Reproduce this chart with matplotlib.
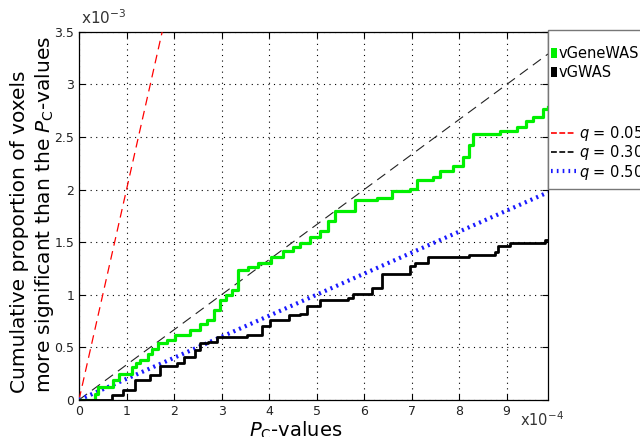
import matplotlib
matplotlib.use("Agg")
import matplotlib.pyplot as plt
from matplotlib.ticker import FuncFormatter, MultipleLocator
from matplotlib.lines import Line2D
from matplotlib.patches import Patch, Rectangle

# vGeneWAS cumulative step curve (x in P_C units of 1e-4, y in units of 1e-3)
gene_x = [0, 0.34, 0.40, 0.72, 0.85, 1.11, 1.20, 1.28, 1.45, 1.53, 1.67, 1.85, 2.02, 2.34, 2.55,
          2.69, 2.85, 2.97, 3.10, 3.21, 3.35, 3.55, 3.77, 4.05, 4.3, 4.5, 4.65, 4.86, 5.07, 5.25,
          5.39, 5.81, 6.27, 6.58, 6.97, 7.11, 7.45, 7.6, 7.88, 8.09, 8.2, 8.3, 8.72, 8.86, 9.21,
          9.4, 9.56, 9.77, 9.87]
gene_y = [0, 0.06, 0.12, 0.19, 0.25, 0.31, 0.35, 0.38, 0.44, 0.48, 0.54, 0.57, 0.62, 0.665, 0.72,
          0.76, 0.85, 0.95, 1.0, 1.045, 1.235, 1.26, 1.30, 1.36, 1.42, 1.45, 1.49, 1.55, 1.61, 1.70,
          1.80, 1.90, 1.92, 1.99, 2.01, 2.09, 2.12, 2.18, 2.22, 2.31, 2.42, 2.53, 2.53, 2.56, 2.6,
          2.65, 2.69, 2.77, 2.79]

# vGWAS cumulative step curve
gwas_x = [0, 0.69, 0.93, 1.18, 1.49, 1.71, 2.06, 2.2, 2.44, 2.55, 2.72, 2.9, 3.53, 3.85, 4.02,
          4.41, 4.65, 4.79, 5.07, 5.67, 5.77, 6.16, 6.37, 6.76, 6.97, 7.07, 7.35, 8.2, 8.76, 8.82,
          9.07, 9.81, 9.87]
gwas_y = [0, 0.05, 0.095, 0.19, 0.24, 0.32, 0.35, 0.41, 0.475, 0.54, 0.55, 0.6, 0.62, 0.70, 0.76,
          0.81, 0.82, 0.89, 0.95, 0.97, 1.01, 1.06, 1.20, 1.20, 1.27, 1.30, 1.36, 1.38, 1.41, 1.46,
          1.49, 1.52, 1.52]

# FDR threshold lines (endpoints)
q05_x = [0, 1.75]
q05_y = [0, 3.5]
q30_x = [0, 9.87]
q30_y = [0, 3.29]
q50_x = [0, 9.87]
q50_y = [0, 1.974]

series_labels = ["vGeneWAS", "vGWAS"]
q_labels = [r"$q$ = 0.05", r"$q$ = 0.30", r"$q$ = 0.50"]

XS, YS = 1e-4, 1e-3
sc = lambda v, s: [a * s for a in v]

W, H = 640, 437
fig = plt.figure(figsize=(6.4, 4.37), dpi=100)
ax = fig.add_axes([79 / W, 0.085, 469 / W, 0.842])

GREEN = "#00f000"
BLUE = "#1a1aff"
ax.step(sc(gene_x, XS), sc(gene_y, YS), where="post", color=GREEN, lw=2.3, zorder=4)
ax.step(sc(gwas_x, XS), sc(gwas_y, YS), where="post", color="black", lw=2.0, zorder=4)
ax.plot(sc(q05_x, XS), sc(q05_y, YS), color="red", ls=(0, (7, 4.5)), lw=0.9, zorder=3)
ax.plot(sc(q30_x, XS), sc(q30_y, YS), color="#222222", ls=(0, (9, 5.5)), lw=0.8, zorder=3)
ax.plot(sc(q50_x, XS), sc(q50_y, YS), color=BLUE, ls=(0, (0.5, 1.0)), lw=3.0, zorder=3)

ax.set_xlim(0, 9.87e-4)
ax.set_ylim(0, 3.5e-3)
ax.xaxis.set_major_locator(MultipleLocator(1e-4))
ax.yaxis.set_major_locator(MultipleLocator(0.5e-3))
ax.xaxis.set_major_formatter(FuncFormatter(lambda v, p: f"{v/XS:g}"))
ax.yaxis.set_major_formatter(FuncFormatter(lambda v, p: f"{round(v/YS, 2):g}"))
ax.tick_params(direction="in", top=True, right=True, labelsize=9, colors="black",
               labelcolor="#222222", length=4)
ax.grid(True, color="black", ls=(0, (1, 4)), lw=0.8)
for s in ax.spines.values():
    s.set_linewidth(0.9)

ax.text(0.004, 1.014, r"x10$^{-3}$", transform=ax.transAxes, fontsize=11, color="#333333",
        va="bottom", ha="left")
ax.text(0.94, -0.028, r"x10$^{-4}$", transform=ax.transAxes, fontsize=10.5, color="#333333",
        va="top", ha="left")

ax.set_ylabel("Cumulative proportion of voxels\nmore significant than the $P_\\mathrm{C}$-values",
              fontsize=14.5, multialignment="left")
ax.yaxis.set_label_coords(-0.05, 0.505)
ax.set_xlabel("$P_\\mathrm{C}$-values", fontsize=14)
ax.xaxis.set_label_coords((296 - 79) / 469, -0.055)
ax.xaxis.label.set_va("top")

# legend box (spans both legend groups)
fig.patches.append(Rectangle((548 / W, 1 - 189 / H), 120 / W, 159 / H, transform=fig.transFigure,
                             facecolor="white", edgecolor="#777777", lw=1.0, zorder=5))

h1 = [Patch(facecolor=GREEN, edgecolor="none"), Patch(facecolor="black", edgecolor="none")]
leg1 = fig.legend(h1, series_labels, loc="upper left", bbox_to_anchor=(551 / W, 1 - 46 / H),
                  bbox_transform=fig.transFigure, fontsize=10.5, frameon=False,
                  handlelength=0.4, handleheight=0.7, handletextpad=0.15, borderpad=0,
                  borderaxespad=0, labelspacing=0.3)
leg1.set_zorder(6)

h2 = [Line2D([], [], color="red", ls=(0, (3.5, 1.5)), lw=1.2),
      Line2D([], [], color="black", ls=(0, (3.5, 1.5)), lw=1.2),
      Line2D([], [], color=BLUE, ls=(0, (0.4, 1.0)), lw=3)]
leg2 = fig.legend(h2, q_labels, loc="upper left", bbox_to_anchor=(551 / W, 1 - 124 / H),
                  bbox_transform=fig.transFigure, fontsize=10.5, frameon=False,
                  handlelength=1.7, handletextpad=0.2, borderpad=0,
                  borderaxespad=0, labelspacing=0.02)
leg2.set_zorder(6)

fig.savefig("out.png", dpi=100)
